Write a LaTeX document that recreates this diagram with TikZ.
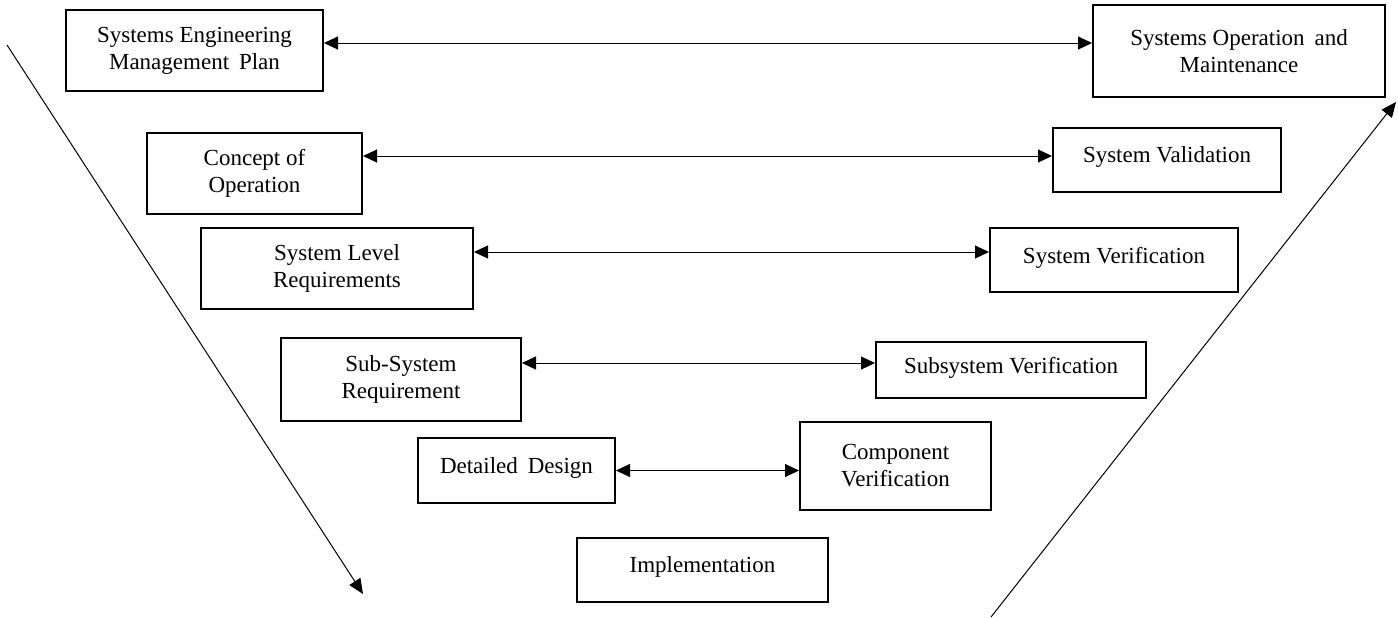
\documentclass[tikz,border=0pt]{standalone}
\usepackage{fontspec}
\setmainfont{Liberation Serif}
\usetikzlibrary{arrows.meta}

\begin{document}
\begin{tikzpicture}[
  x=0.5pt, y=-0.5pt,
  stage/.style={draw, line width=1pt, align=center, inner sep=0pt,
    font=\fontsize{11.5}{13.5}\selectfont},
  oneline/.style={text depth=5pt},
  link/.style={line width=0.5pt, {Triangle[length=7pt,width=6.5pt]}-{Triangle[length=7pt,width=6.5pt]}},
  flow/.style={line width=0.5pt, -{Triangle[length=7.5pt,width=6.5pt]}}
]
\useasboundingbox (0,0) rectangle (1398,617);

% left leg: definition and decomposition
\node[stage, minimum width=128.5pt, minimum height=40.5pt] (semp) at (194.5,50.5)
  {Systems Engineering\\Management\hspace{0.18em} Plan};
\node[stage, minimum width=107.5pt, minimum height=40.5pt] (conops) at (254.5,173.5)
  {Concept of\\Operation};
\node[stage, minimum width=136pt, minimum height=40.5pt] (sysreq) at (337,268.5)
  {System Level\\Requirements};
\node[stage, minimum width=120pt, minimum height=41.5pt] (subreq) at (401,379.5)
  {Sub-System\\Requirement};
\node[stage, oneline, minimum width=98.5pt, minimum height=32.5pt] (design) at (516.5,470.5)
  {Detailed\hspace{0.18em} Design};

% bottom of the V
\node[stage, oneline, minimum width=125.5pt, minimum height=32pt] (impl) at (702.5,570)
  {Implementation};

% right leg: integration and verification
\node[stage, minimum width=95.5pt, minimum height=44pt] (compver) at (895.5,466)
  {Component\\Verification};
\node[stage, oneline, minimum width=135pt, minimum height=28pt] (subver) at (1011,370)
  {Subsystem Verification};
\node[stage, oneline, minimum width=124pt, minimum height=32pt] (sysver) at (1114,260)
  {System Verification};
\node[stage, oneline, minimum width=114pt, minimum height=32pt] (sysval) at (1167,160)
  {System Validation};
\node[stage, minimum width=146pt, minimum height=46pt] (om) at (1239,51)
  {Systems Operation\hspace{0.18em} and\\Maintenance};

% traceability links between matching stages
\draw[link] ([yshift=3.75pt]semp.east) -- ([yshift=3.75pt]semp.east -| om.west);
\draw[link] ([yshift=8.75pt]conops.east) -- ([yshift=8.75pt]conops.east -| sysval.west);
\draw[link] ([yshift=8.25pt]sysreq.east) -- ([yshift=8.25pt]sysreq.east -| sysver.west);
\draw[link] ([yshift=8.25pt]subreq.east) -- ([yshift=8.25pt]subreq.east -| subver.west);
\draw[link] (design.east) -- (design.east -| compver.west);

% direction of the two legs
\coordinate (downstart) at (7,45);
\coordinate (downend) at (363,594);
\coordinate (upstart) at (991,617);
\coordinate (upend) at (1396,102);
\draw[flow] (downstart) -- (downend);
\draw[flow] (upstart) -- (upend);
\end{tikzpicture}
\end{document}
